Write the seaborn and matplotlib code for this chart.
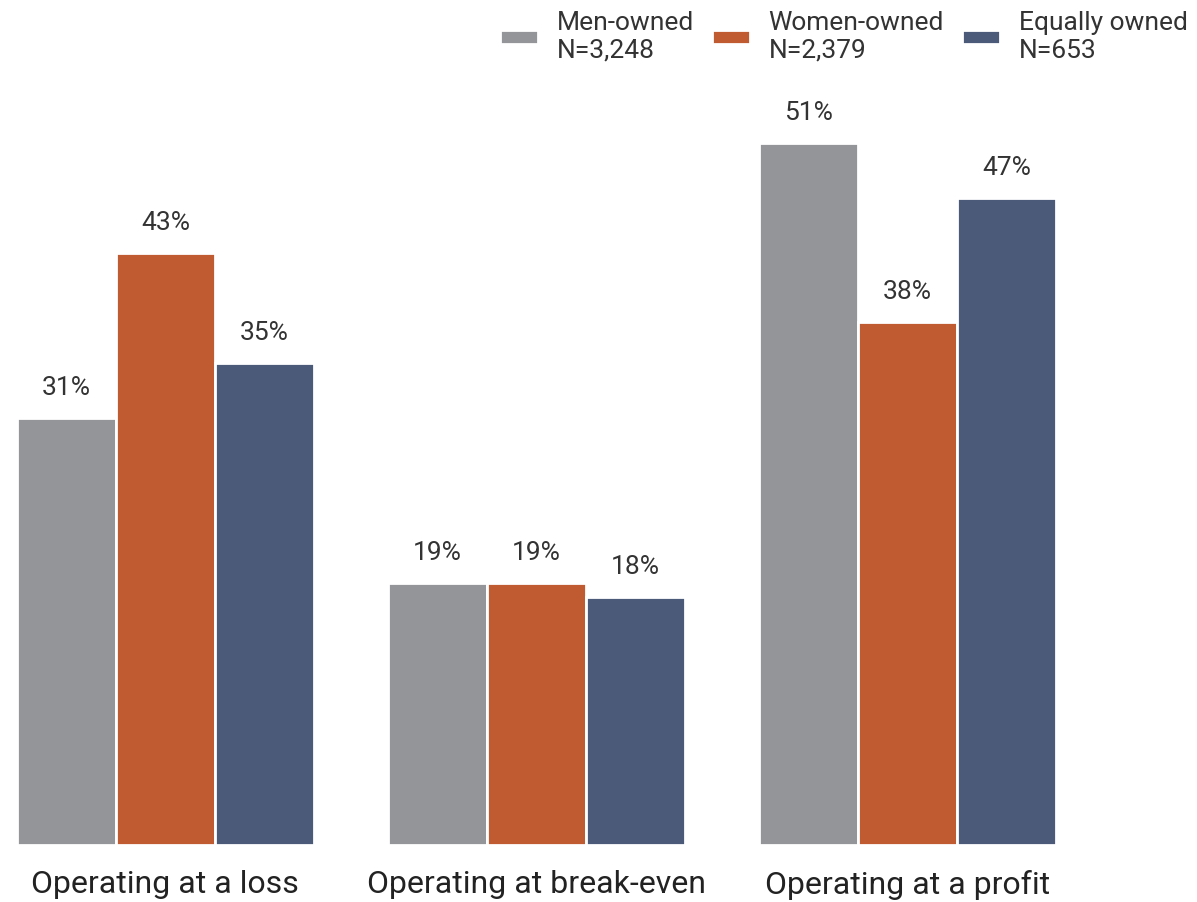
import matplotlib
matplotlib.use("Agg")
import matplotlib.pyplot as plt
import seaborn as sns
import pandas as pd

categories = ["Operating at a loss", "Operating at break-even", "Operating at a profit"]
groups = ["Men-owned\nN=3,248", "Women-owned\nN=2,379", "Equally owned\nN=653"]
men = [31, 19, 51]
women = [43, 19, 38]
equal = [35, 18, 47]
colors = ["#939598", "#C05A30", "#4A5A78"]

rows = []
for g, vals in zip(groups, [men, women, equal]):
    for c, v in zip(categories, vals):
        rows.append({"category": c, "group": g, "value": v})
df = pd.DataFrame(rows)

sns.set_style("white")
plt.rcParams["font.family"] = ["Roboto", "DejaVu Sans"]

fig = plt.figure(figsize=(11.97, 9.02), dpi=100)
ax = fig.add_axes([17/1197, 1 - 845/902, 1038.8/1197, 757/902])
sns.barplot(data=df, x="category", y="value", hue="group", order=categories,
            hue_order=groups, palette=colors, saturation=1, width=0.8, gap=0,
            edgecolor="white", linewidth=2, ax=ax, legend=True)
ax.set_xlim(-0.4, 2.4)
ax.set_ylim(0, 55)
for cont in ax.containers:
    ax.bar_label(cont, labels=[f"{int(v)}%" for v in cont.datavalues],
                 padding=13, fontsize=19, color="#333333")
ax.set_xlabel("")
ax.set_ylabel("")
ax.set_yticks([])
ax.tick_params(axis="x", length=0, pad=18, labelsize=23, labelcolor="#222222")
for s in ax.spines.values():
    s.set_visible(False)

handles, labels = ax.get_legend_handles_labels()
ax.legend_.remove()
fig.legend(handles, labels, ncol=3, loc="upper right", bbox_to_anchor=(1.012, 1.014),
           frameon=False, fontsize=19, handlelength=1.45, handleheight=0.45,
           handletextpad=0.7, columnspacing=0.68, labelcolor="#333333",
           labelspacing=0.2)

fig.savefig("out.png", dpi=100)
